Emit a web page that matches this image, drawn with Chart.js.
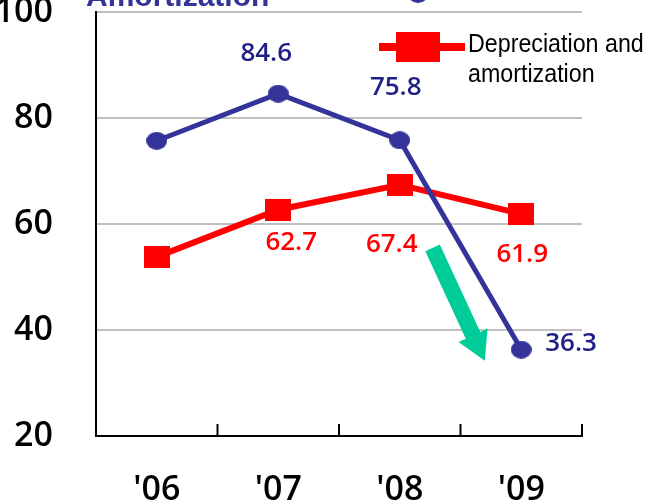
<!DOCTYPE html>
<html>
<head>
<meta charset="utf-8">
<script src="https://cdn.jsdelivr.net/npm/chart.js@4"></script>
<style>
  html, body { margin: 0; padding: 0; background: #fff; }
  #wrap { width: 664px; height: 503px; }
</style>
</head>
<body>
<div id="wrap"><canvas id="chart" width="664" height="503"></canvas></div>
<script>
// chart values
const years = ["'06", "'07", "'08", "'09"];
const blueValues = [75.7, 84.6, 75.8, 36.3];
const redValues = [53.8, 62.7, 67.4, 61.9];
const blueLabels = ['', '84.6', '75.8', '36.3'];
const redLabels = ['', '62.7', '67.4', '61.9'];
const yTicks = [20, 40, 60, 80, 100];
const legendLines = ['Depreciation and', 'amortization'];
const titleText = 'Amortization';

// colours
const BLUE = '#333399';
const BLUE_TEXT = '#1f1f85';
const RED = '#ff0000';
const GREEN = '#00cc99';
const TICK_FONT = '"Open Sans", "Liberation Sans", sans-serif';

// label offsets (px) from each point
const blueOffsets = [null, [-12, -40], [-4, -53], [24, -6]];
const redOffsets = [null, [13, 33], [-8, 60], [1, 41]];

function makeMarker(w, h, color, round) {
  const c = document.createElement('canvas');
  c.width = w; c.height = h;
  const g = c.getContext('2d');
  g.fillStyle = color;
  if (round) {
    g.beginPath();
    g.ellipse(w / 2, h / 2, w / 2, h / 2, 0, 0, Math.PI * 2);
    g.fill();
  } else {
    g.fillRect(0, 0, w, h);
  }
  return c;
}

const blueDot = makeMarker(21, 18, BLUE, true);
const redBox = makeMarker(26, 22, RED, false);

const noPad = () => ({ left: 0, top: 0, right: 0, bottom: 0 });

const extras = {
  id: 'extras',
  afterDatasetsDraw(chart) {
    const ctx = chart.ctx;
    const x = chart.scales.x, y = chart.scales.y;
    const area = chart.chartArea;

    // tick marks between categories, pointing up
    ctx.save();
    ctx.strokeStyle = '#000';
    ctx.lineWidth = 2;
    for (let i = 0; i < years.length; i++) {
      const px = x.getPixelForValue(i + 0.5);
      ctx.beginPath();
      ctx.moveTo(px, area.bottom - 12);
      ctx.lineTo(px, area.bottom);
      ctx.stroke();
    }
    ctx.restore();

    // value labels
    ctx.save();
    ctx.font = '600 26px ' + TICK_FONT;
    ctx.textBaseline = 'middle';
    const drawLabels = (meta, labels, offsets, color, lastLeft) => {
      ctx.fillStyle = color;
      meta.data.forEach((pt, i) => {
        if (!labels[i]) return;
        const [dx, dy] = offsets[i];
        ctx.textAlign = (lastLeft && i === labels.length - 1) ? 'left' : 'center';
        ctx.fillText(labels[i], pt.x + dx, pt.y + dy);
      });
    };
    drawLabels(chart.getDatasetMeta(0), blueLabels, blueOffsets, BLUE_TEXT, true);
    drawLabels(chart.getDatasetMeta(1), redLabels, redOffsets, RED, false);
    ctx.restore();

    // green downward arrow
    const x0 = x.getPixelForValue(2.27), y0 = y.getPixelForValue(55.5);
    const x1 = x.getPixelForValue(2.70), y1 = y.getPixelForValue(34.2);
    const ang = Math.atan2(y1 - y0, x1 - x0);
    const len = Math.hypot(x1 - x0, y1 - y0);
    ctx.save();
    ctx.translate(x0, y0);
    ctx.rotate(ang);
    ctx.fillStyle = GREEN;
    ctx.beginPath();
    ctx.moveTo(0, -8);
    ctx.lineTo(len - 28, -8);
    ctx.lineTo(len - 28, -16);
    ctx.lineTo(len, 0);
    ctx.lineTo(len - 28, 16);
    ctx.lineTo(len - 28, 8);
    ctx.lineTo(0, 8);
    ctx.closePath();
    ctx.fill();
    ctx.restore();

    // legend (red series)
    ctx.save();
    ctx.fillStyle = RED;
    ctx.fillRect(379, 43, 86, 8);
    ctx.fillRect(396, 32, 44, 30);
    ctx.fillStyle = '#000';
    ctx.font = '25px "Liberation Sans", Arial, sans-serif';
    ctx.textAlign = 'left';
    ctx.textBaseline = 'alphabetic';
    ctx.translate(468, 0);
    ctx.scale(0.93, 1);
    ctx.fillText(legendLines[0], 0, 52);
    ctx.fillText(legendLines[1], 0, 82);
    ctx.restore();

    // cut-off title and legend dot at the very top
    ctx.save();
    ctx.fillStyle = BLUE;
    ctx.font = 'bold 30px "Liberation Sans", Arial, sans-serif';
    ctx.textBaseline = 'alphabetic';
    ctx.fillText(titleText, 86, 6);
    ctx.beginPath();
    ctx.arc(418, -8, 11, 0, Math.PI * 2);
    ctx.fill();
    ctx.restore();
  }
};

new Chart(document.getElementById('chart'), {
  type: 'line',
  data: {
    labels: years,
    datasets: [
      {
        label: 'Blue',
        data: blueValues,
        borderColor: BLUE,
        borderWidth: 5,
        pointStyle: blueDot,
        pointRadius: 10,
        tension: 0
      },
      {
        label: 'Depreciation and amortization',
        data: redValues,
        borderColor: RED,
        borderWidth: 6,
        pointStyle: redBox,
        pointRadius: 13,
        tension: 0
      }
    ]
  },
  options: {
    responsive: false,
    animation: false,
    events: [],
    layout: { autoPadding: false, padding: { top: 12, right: 82, left: 0, bottom: 0 } },
    plugins: { legend: { display: false }, tooltip: { enabled: false } },
    scales: {
      x: {
        offset: true,
        grid: { display: false },
        border: { display: true, color: '#000', width: 2 },
        ticks: {
          color: '#000',
          padding: 26,
          font: { family: TICK_FONT, size: 34, weight: '600' }
        },
        afterFit(s) { s.height = 67; s.getPadding = noPad; }
      },
      y: {
        min: 20,
        max: 100,
        afterBuildTicks(s) { s.ticks = yTicks.map(v => ({ value: v })); },
        grid: {
          drawTicks: false,
          lineWidth: 2,
          color: c => c.tick && c.tick.value === 20 ? 'rgba(0,0,0,0)' : '#c0c0c0'
        },
        border: { display: true, color: '#000', width: 2 },
        ticks: {
          color: '#000',
          padding: 43,
          font: { family: TICK_FONT, size: 34, weight: '600', lineHeight: 0.6 }
        },
        afterFit(s) { s.width = 96; s.getPadding = noPad; }
      }
    }
  },
  plugins: [extras]
});
</script>
</body>
</html>
